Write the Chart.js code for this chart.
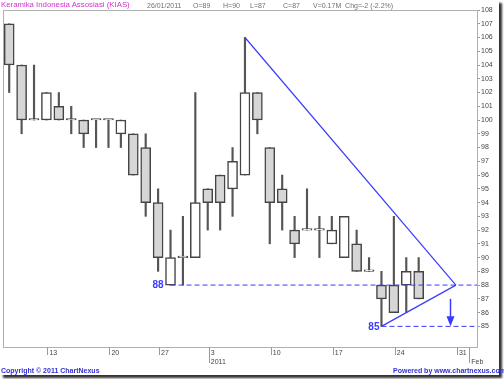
<!DOCTYPE html>
<html>
<head>
<meta charset="utf-8">
<script src="https://cdn.jsdelivr.net/npm/chart.js@4/dist/chart.umd.min.js"></script>
<style>
html,body{margin:0;padding:0;background:#fff;}
#wrap{position:relative;width:504px;height:379px;overflow:hidden;background:#fff;}
#frame{position:absolute;left:0;top:0;width:499px;height:375px;background:#fff;box-shadow:3px 3px 2px rgba(0,0,0,0.8);}
#c{position:absolute;left:0;top:0;}
.t{position:absolute;white-space:nowrap;font-family:"Liberation Sans",Arial,sans-serif;line-height:1;}
.h{top:2px;font-size:7px;color:#707070;}
.f{top:367px;font-size:7px;color:#3030d0;font-weight:bold;}
</style>
</head>
<body>
<div id="wrap">
  <div id="frame"></div>
  <canvas id="c" width="504" height="379"></canvas>
  <div class="t" style="left:1px;top:1px;font-size:7.8px;color:#d42fd4;">Keramika Indonesia Assosiasi (KIAS)</div>
  <div class="t h" style="left:147px;">26/01/2011</div>
  <div class="t h" style="left:193px;">O=89</div>
  <div class="t h" style="left:223px;">H=90</div>
  <div class="t h" style="left:250px;">L=87</div>
  <div class="t h" style="left:283px;">C=87</div>
  <div class="t h" style="left:313px;">V=0.17M&nbsp; Chg=-2 (-2.2%)</div>
  <div class="t f" style="left:1px;">Copyright © 2011 ChartNexus</div>
  <div class="t f" style="left:393px;">Powered by www.chartnexus.com</div>
</div>
<script>
// ---- data ----
const dates = ['2010-12-08','2010-12-09','2010-12-10','2010-12-13','2010-12-14','2010-12-15','2010-12-16','2010-12-17',
  '2010-12-20','2010-12-21','2010-12-22','2010-12-23','2010-12-27','2010-12-28','2010-12-29','2010-12-30',
  '2011-01-03','2011-01-04','2011-01-05','2011-01-06','2011-01-07','2011-01-10','2011-01-11','2011-01-12','2011-01-13','2011-01-14',
  '2011-01-17','2011-01-18','2011-01-19','2011-01-20','2011-01-21','2011-01-24','2011-01-25','2011-01-26','2011-01-27','2011-01-28',
  '2011-01-31','2011-02-01'];
const opens  = [107,104,100,100,101,100,100,100,100, 99, 99, 98, 94, 88, 90, 90, 95, 96, 95, 96,102, 98, 95, 92, 92, 92, 91, 90, 91, 89, 88, 88, 88, 89];
const highs  = [107,104,104,102,102,101,100,100,100,100, 99, 99, 95, 92, 93,102, 95, 96, 98,106,102, 98, 96, 93, 95, 93, 93, 93, 92, 90, 89, 93, 90, 90];
const lows   = [102, 99,100,100,100, 99, 98, 98, 98, 98, 96, 93, 89, 88, 88, 90, 92, 92, 93, 96, 99, 91, 92, 90, 92, 90, 91, 90, 89, 89, 85, 86, 86, 87];
const closes = [104,100,100,102,100,100, 99,100,100,100, 96, 94, 90, 90, 90, 94, 94, 94, 97,102,100, 94, 94, 91, 92, 92, 92, 93, 89, 89, 87, 86, 89, 87];
const xTickIdx  = [3, 8, 12, 16, 21, 26, 31, 36, 37];
const xTickText = [['13'],['20'],['27'],['3','2011'],['10'],['17'],['24'],['31'],['','Feb']];
const yTickValues = [85,86,87,88,89,90,91,92,93,94,95,96,97,98,99,100,101,102,103,104,105,106,107,108];
const resistanceLine = [{x:19, y:106}, {x:36, y:88}];
const supportLine    = [{x:30, y:85},  {x:36, y:88}];
const levels     = [88, 85];
const levelStart = [13, 30];
const arrowAt = 35.5, arrowFrom = 87, arrowTo = 85;

// ---- chart ----
const BLUE = '#3b3bff';
const xMin = -0.5, xMax = dates.length - 0.3;

const overlay = {
  id: 'overlay',
  afterDraw(chart) {
    const {ctx, chartArea: a, scales: {x, y}} = chart;
    ctx.save();
    ctx.strokeStyle = '#b0b0b0'; ctx.lineWidth = 1;
    ctx.strokeRect(Math.round(a.left) + 0.5, Math.round(a.top) + 0.5, Math.round(a.right - a.left), Math.round(a.bottom - a.top));
    ctx.strokeStyle = '#999';
    xTickIdx.forEach((v, i) => {
      const px = Math.round(x.getPixelForValue(v)) + 1.5;
      const len = xTickText[i].length > 1 ? 16 : 8;
      ctx.beginPath(); ctx.moveTo(px, a.bottom); ctx.lineTo(px, a.bottom + len); ctx.stroke();
    });
    ctx.fillStyle = BLUE;
    ctx.font = 'bold 10px "Liberation Sans", Arial, sans-serif';
    ctx.textAlign = 'right'; ctx.textBaseline = 'middle';
    const gaps = [7, 2];
    levels.forEach((lv, i) => ctx.fillText(String(lv), x.getPixelForValue(levelStart[i]) - gaps[i], y.getPixelForValue(lv) + 0.5));
    // arrow
    const ax = Math.round(x.getPixelForValue(arrowAt)) + 0.5;
    const y0 = y.getPixelForValue(arrowFrom), y1 = y.getPixelForValue(arrowTo);
    ctx.strokeStyle = BLUE; ctx.lineWidth = 1.5;
    ctx.beginPath(); ctx.moveTo(ax, y0); ctx.lineTo(ax, y1 - 8); ctx.stroke();
    ctx.beginPath(); ctx.moveTo(ax - 4, y1 - 10); ctx.lineTo(ax + 4, y1 - 10); ctx.lineTo(ax, y1); ctx.closePath(); ctx.fill();
    ctx.restore();
  }
};

Chart.defaults.font.family = '"Liberation Sans", Arial, sans-serif';

new Chart(document.getElementById('c'), {
  data: {
    datasets: [
      {
        type: 'line', order: 0, data: resistanceLine, borderColor: BLUE, borderWidth: 1.2,
        pointRadius: 0, fill: false
      },
      {
        type: 'line', order: 0, data: supportLine, borderColor: BLUE, borderWidth: 1.2,
        pointRadius: 0, fill: false
      },
      ...levels.map((lv, i) => ({
        type: 'line', order: 0, data: [{x: levelStart[i], y: lv}, {x: xMax, y: lv}],
        borderColor: BLUE, borderWidth: 1, borderDash: [5, 3], pointRadius: 0, fill: false
      })),
      {
        type: 'bar', order: 1, grouped: false,
        data: opens.map((o, i) => ({x: i, y: [o, closes[i]]})),
        backgroundColor: ctx => (closes[ctx.dataIndex] < opens[ctx.dataIndex] ? '#d6d6d6' : '#ffffff'),
        borderColor: '#454545', borderWidth: 1.5, borderSkipped: false,
        barThickness: 10, minBarLength: 1.5
      },
      {
        type: 'bar', order: 2, grouped: false,
        data: lows.map((l, i) => ({x: i, y: [l, highs[i]]})),
        backgroundColor: '#555', borderWidth: 0, barThickness: 1.5
      }
    ]
  },
  options: {
    responsive: false, animation: false,
    layout: {padding: {left: 3, top: 10, right: 6, bottom: 10}},
    plugins: {legend: {display: false}, tooltip: {enabled: false}},
    scales: {
      x: {
        type: 'linear', min: xMin, max: xMax, offset: false,
        grid: {display: false, drawTicks: false, offset: false}, border: {display: false},
        afterBuildTicks: s => { s.ticks = xTickIdx.map(v => ({value: v})); },
        afterFit: s => { s.height = 22; },
        ticks: {autoSkip: false, maxRotation: 0, minRotation: 0, align: 'start', labelOffset: 3, padding: 2,
          color: '#444', font: {size: 7}, callback: (v, i) => xTickText[i]}
      },
      y: {
        type: 'linear', position: 'right', min: 83.5, max: 108,
        grid: {drawOnChartArea: false, drawTicks: true, tickLength: 3, color: '#999'}, border: {display: false},
        afterBuildTicks: s => { s.ticks = yTickValues.map(v => ({value: v})); },
        afterFit: s => { s.width = 21; },
        ticks: {padding: 1, color: '#444', font: {size: 7}}
      }
    }
  },
  plugins: [overlay]
});
</script>
</body>
</html>
